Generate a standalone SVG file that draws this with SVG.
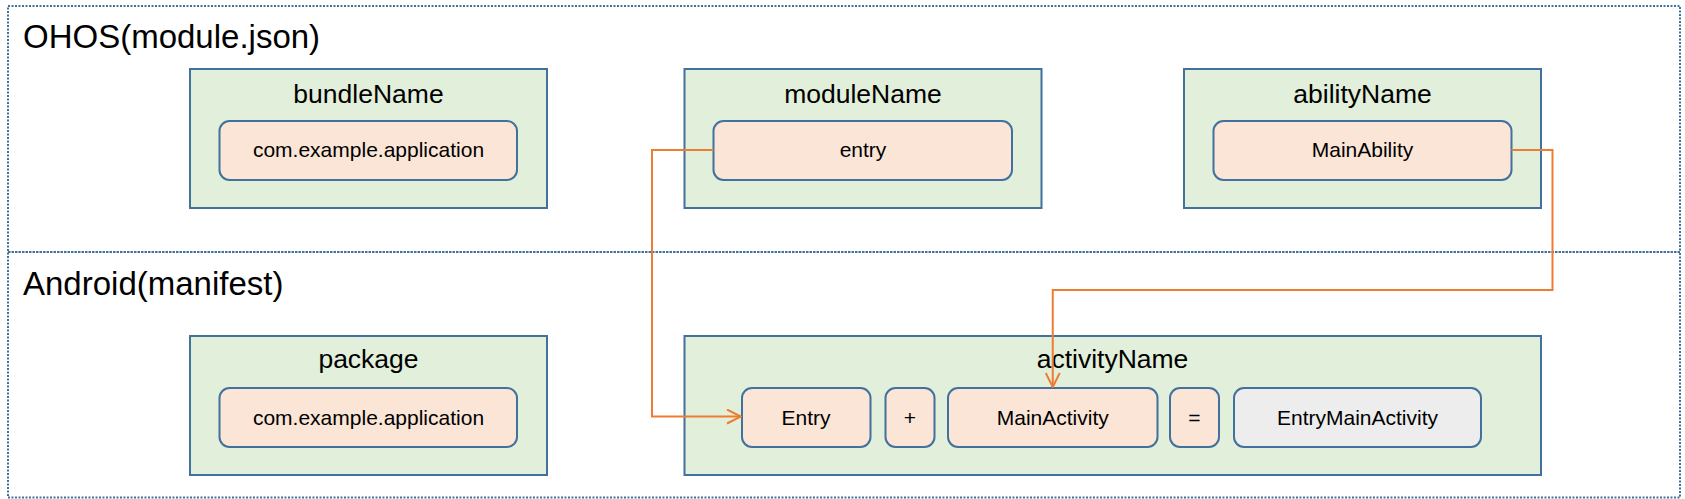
<svg xmlns="http://www.w3.org/2000/svg" width="1685" height="499" viewBox="0 0 1685 499">
<style>
.frame{fill:none;stroke:#41719C;stroke-width:2;stroke-dasharray:2 1.5}
.outer{fill:#E2EFDA;stroke:#41719C;stroke-width:2}
.inner{fill:#FBE5D6;stroke:#41719C;stroke-width:2}
.result{fill:#EDEDED;stroke:#41719C;stroke-width:2}
.title{font-family:"Liberation Sans",Arial,sans-serif;font-size:33px;fill:#000}
.label{font-family:"Liberation Sans",Arial,sans-serif;font-size:26.5px;fill:#000;text-anchor:middle}
.val{font-family:"Liberation Sans",Arial,sans-serif;font-size:21px;fill:#000;text-anchor:middle}
.conn{fill:none;stroke:#ED7D31;stroke-width:2}
</style>
<defs>
<marker id="arr" viewBox="0 0 16 16" refX="15" refY="8" markerWidth="16" markerHeight="16" markerUnits="userSpaceOnUse" orient="auto">
<path d="M1,1 L15,8 L1,15" fill="none" stroke="#ED7D31" stroke-width="2"/>
</marker>
</defs>
<rect width="1685" height="499" fill="#fff"/>
<g id="ohos-frame">
<rect class="frame" x="8" y="6" width="1672" height="246"/>
<text class="title" x="23" y="48">OHOS(module.json)</text>
</g>
<g id="android-frame">
<rect class="frame" x="8" y="252" width="1672" height="245.5"/>
<text class="title" x="23" y="295">Android(manifest)</text>
</g>
<g id="bundleName">
<rect class="outer" x="190" y="69" width="357" height="139"/>
<text class="label" x="368.5" y="103">bundleName</text>
<rect class="inner" x="219.5" y="121" width="297.5" height="59" rx="10"/>
<text class="val" x="368.5" y="157">com.example.application</text>
</g>
<g id="moduleName">
<rect class="outer" x="684.5" y="69" width="357" height="139"/>
<text class="label" x="863" y="103">moduleName</text>
<rect class="inner" x="713.5" y="121" width="298.5" height="59" rx="10"/>
<text class="val" x="863" y="157">entry</text>
</g>
<g id="abilityName">
<rect class="outer" x="1184" y="69" width="357" height="139"/>
<text class="label" x="1362.5" y="103">abilityName</text>
<rect class="inner" x="1213.5" y="121" width="298" height="59" rx="10"/>
<text class="val" x="1362.5" y="157">MainAbility</text>
</g>
<g id="package">
<rect class="outer" x="190" y="336" width="357" height="139"/>
<text class="label" x="368.5" y="368">package</text>
<rect class="inner" x="219.5" y="388" width="297.5" height="59" rx="10"/>
<text class="val" x="368.5" y="425">com.example.application</text>
</g>
<g id="activityName">
<rect class="outer" x="684.5" y="336" width="856.5" height="139"/>
<text class="label" x="1112.5" y="368">activityName</text>
</g>
<g id="entry">
<rect class="inner" x="742" y="388" width="128.5" height="59" rx="10"/>
<text class="val" x="806" y="425">Entry</text>
</g>
<g id="plus">
<rect class="inner" x="885.5" y="388" width="49" height="59" rx="10"/>
<text class="val" x="910" y="425">+</text>
</g>
<g id="mainActivity">
<rect class="inner" x="948" y="388" width="209.5" height="59" rx="10"/>
<text class="val" x="1052.75" y="425">MainActivity</text>
</g>
<g id="equals">
<rect class="inner" x="1170" y="388" width="49" height="59" rx="10"/>
<text class="val" x="1194.5" y="425">=</text>
</g>
<g id="entryMainActivity">
<rect class="result" x="1234" y="388" width="247" height="59" rx="10"/>
<text class="val" x="1357.5" y="425">EntryMainActivity</text>
</g>
<g id="connectors">
<path class="conn" d="M713.5,150 H652 V416.5 H741" marker-end="url(#arr)"/>
<path class="conn" d="M1511.5,150 H1552.5 V290 H1052.75 V387" marker-end="url(#arr)"/>
</g>
</svg>
